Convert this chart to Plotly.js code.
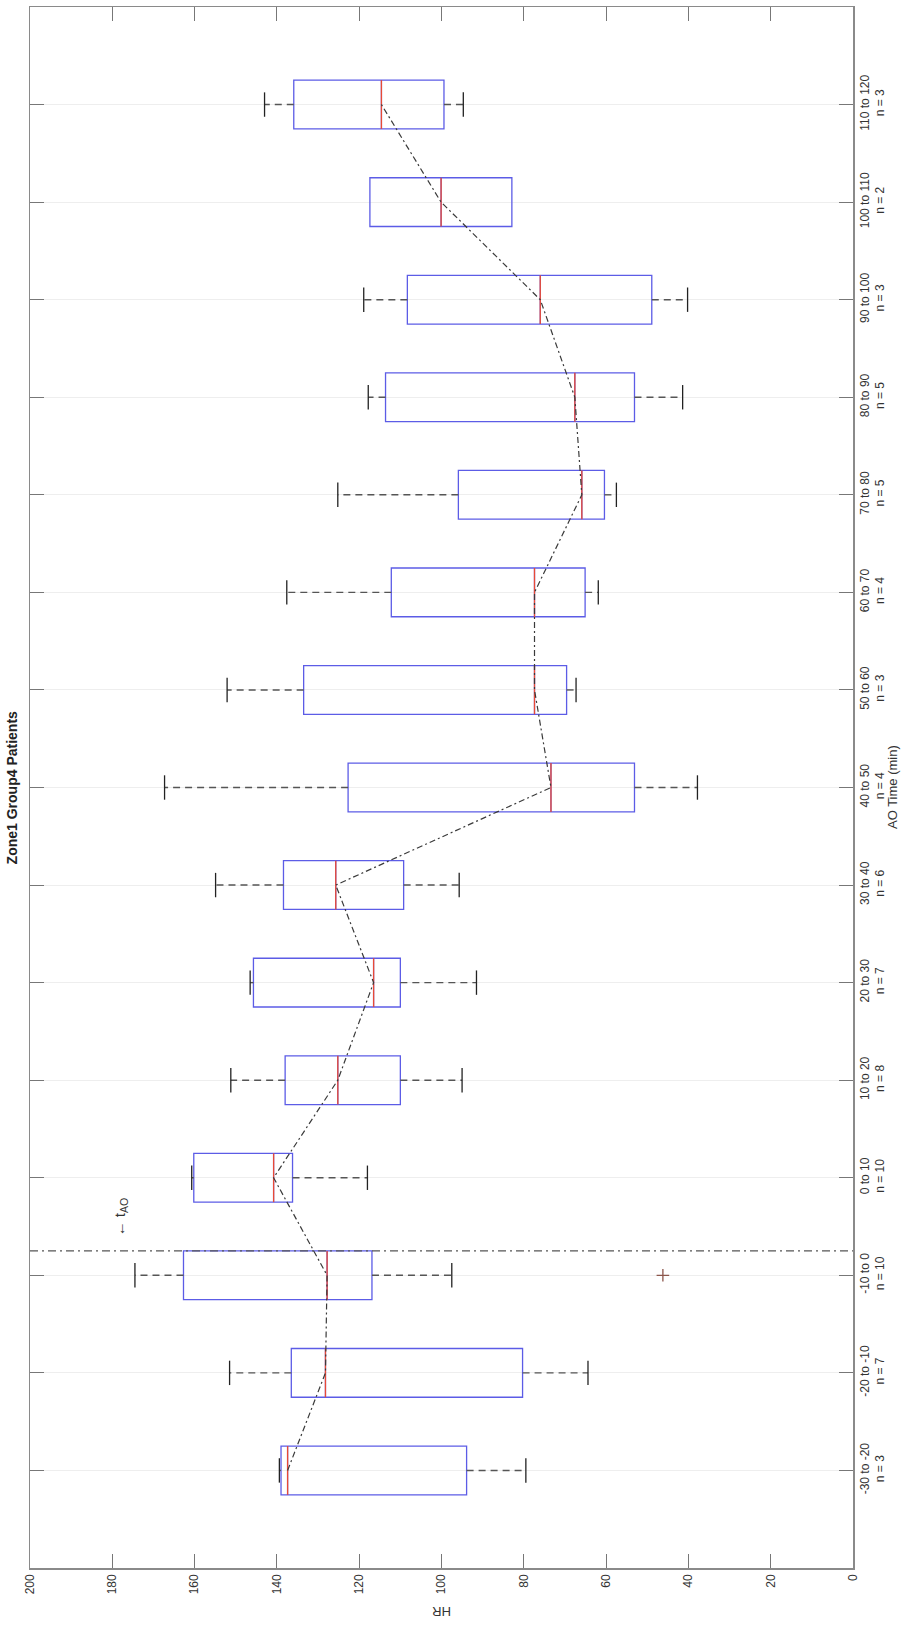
<!DOCTYPE html>
<html>
<head>
<meta charset="utf-8">
<script src="https://cdn.plot.ly/plotly-3.0.1.min.js"></script>
<style>
  html, body { margin: 0; padding: 0; background: #ffffff; }
  #chart { width: 908px; height: 1625px; }
</style>
</head>
<body>
<div id="chart"></div>
<script>
// ---- data (HR values) ----
const categories = ["-30 to -20", "-20 to -10", "-10 to 0", "0 to 10", "10 to 20", "20 to 30", "30 to 40",
                    "40 to 50", "50 to 60", "60 to 70", "70 to 80", "80 to 90", "90 to 100", "100 to 110", "110 to 120"];
const counts = [3, 7, 10, 10, 8, 7, 6, 4, 3, 4, 5, 5, 3, 2, 3];
const upperWhisker = [139.4, 151.5, 174.5, 160.7, 151.2, 146.5, 154.9, 167.3, 152.1, 137.6, 125.2, 117.8, 118.9, null, 143.0];
const q3HR         = [139.0, 136.5, 162.7, 160.2, 138.0, 145.7, 138.4, 122.7, 133.5, 112.2, 95.9, 113.6, 108.3, 117.4, 135.9];
const medianHR     = [137.4, 128.2, 127.8, 140.8, 125.2, 116.5, 125.7, 73.4, 77.4, 77.4, 65.9, 67.6, 76.0, 100.1, 114.6];
const q1HR         = [93.9, 80.3, 116.9, 136.2, 110.0, 110.0, 109.2, 53.1, 69.6, 65.1, 60.4, 53.1, 48.9, 82.9, 99.4];
const lowerWhisker = [79.5, 64.4, 97.5, 118.0, 95.0, 91.5, 95.7, 37.8, 67.3, 61.9, 57.5, 41.4, 40.2, null, 94.7];
const outlierCategory = ["-10 to 0"];
const outlierHR = [46.2];
const tAOPosition = 3.25;   // between "-10 to 0" and "0 to 10"
const hrTicks = [0, 20, 40, 60, 80, 100, 120, 140, 160, 180, 200];

// ---- derived ----
const pos = categories.map((c, i) => i + 1);
const tickText = categories.map((c, i) => c + "<br>n = " + counts[i]);
const boxHalf = 0.25, capHalf = 0.125;

const blue = "#5c5ce6", red = "#e84a36", dark = "#3a3a3a";
const font = "Liberation Sans, Arial, sans-serif";

const wx = [], wy = [], cx = [], cy = [], mx = [], my = [];
pos.forEach((p, i) => {
  if (lowerWhisker[i] !== null) {
    wx.push(q1HR[i], lowerWhisker[i], null); wy.push(p, p, null);
    cx.push(lowerWhisker[i], lowerWhisker[i], null); cy.push(p - capHalf, p + capHalf, null);
  }
  if (upperWhisker[i] !== null) {
    wx.push(q3HR[i], upperWhisker[i], null); wy.push(p, p, null);
    cx.push(upperWhisker[i], upperWhisker[i], null); cy.push(p - capHalf, p + capHalf, null);
  }
  mx.push(medianHR[i], medianHR[i], null); my.push(p - boxHalf, p + boxHalf, null);
});

const traces = [
  { type: "scatter", mode: "lines", x: wx, y: wy, hoverinfo: "skip",
    line: { color: "#555555", width: 1.4, dash: "7px,5px" } },
  { type: "box", orientation: "h", y: pos, q1: q1HR, median: medianHR, q3: q3HR,
    lowerfence: q1HR, upperfence: q3HR, width: 2 * boxHalf, whiskerwidth: 0,
    boxpoints: false, fillcolor: "rgba(0,0,0,0)", line: { color: blue, width: 1.3 } },
  { type: "scatter", mode: "lines", x: cx, y: cy, hoverinfo: "skip",
    line: { color: "#222222", width: 1.3 } },
  { type: "scatter", mode: "lines", x: mx, y: my, hoverinfo: "skip",
    line: { color: red, width: 1.3 } },
  { type: "scatter", mode: "lines", x: medianHR, y: pos, hoverinfo: "skip",
    line: { color: dark, width: 1.2, dash: "6px,3px,2px,3px" } },
  { type: "scatter", mode: "markers",
    x: outlierHR, y: outlierCategory.map(c => categories.indexOf(c) + 1),
    marker: { symbol: "cross-thin-open", size: 9, line: { color: red, width: 1.3 } } }
];

const layout = {
  width: 908, height: 1625,
  margin: { l: 30, r: 55, t: 7, b: 57 },
  paper_bgcolor: "#ffffff", plot_bgcolor: "#ffffff",
  showlegend: false,
  font: { family: font, size: 12, color: "#333333" },
  xaxis: {
    range: [200, 0], tickvals: hrTicks, ticktext: hrTicks.map(String),
    tickangle: -90, ticks: "inside", ticklen: 14, tickcolor: "#777777", tickwidth: 1,
    showline: true, linecolor: "#8a8a8a", linewidth: 1.5, mirror: "ticks",
    showgrid: false, zeroline: false, tickfont: { family: font, size: 12, color: "#333333" }
  },
  yaxis: {
    range: [0, 16], tickvals: pos, ticktext: tickText, side: "right",
    tickangle: -90, ticks: "inside", ticklen: 14, tickcolor: "#777777", tickwidth: 1,
    showline: true, linecolor: "#8a8a8a", linewidth: 1.5, mirror: "ticks",
    showgrid: true, gridcolor: "#eeeeee", gridwidth: 1, zeroline: false,
    tickfont: { family: font, size: 12, color: "#333333" }
  },
  shapes: [
    { type: "line", xref: "paper", x0: 0, x1: 1, yref: "y", y0: tAOPosition, y1: tAOPosition,
      line: { color: "#555555", width: 1.3, dash: "8px,4px,2px,4px" } }
  ],
  annotations: [
    { text: "<b>Zone1 Group4 Patients</b>", xref: "paper", yref: "paper", x: -0.022, y: 0.5,
      xanchor: "center", yanchor: "middle", textangle: -90, showarrow: false,
      font: { family: font, size: 14, color: "#222222" } },
    { text: "AO Time (min)", xref: "paper", yref: "paper", x: 1.048, y: 0.5,
      xanchor: "center", yanchor: "middle", textangle: -90, showarrow: false,
      font: { family: font, size: 13, color: "#333333" } },
    { text: "HR", xref: "paper", yref: "paper", x: 0.5, y: -0.028,
      xanchor: "center", yanchor: "middle", textangle: 180, showarrow: false,
      font: { family: font, size: 13, color: "#333333" } },
    { text: "\u2190 t<sub>AO</sub>", xref: "x", yref: "y", x: 178, y: 3.6,
      xanchor: "center", yanchor: "middle", textangle: -90, showarrow: false,
      font: { family: font, size: 15, color: "#333333" } }
  ]
};

Plotly.newPlot("chart", traces, layout, { staticPlot: true, displayModeBar: false });
</script>
</body>
</html>
